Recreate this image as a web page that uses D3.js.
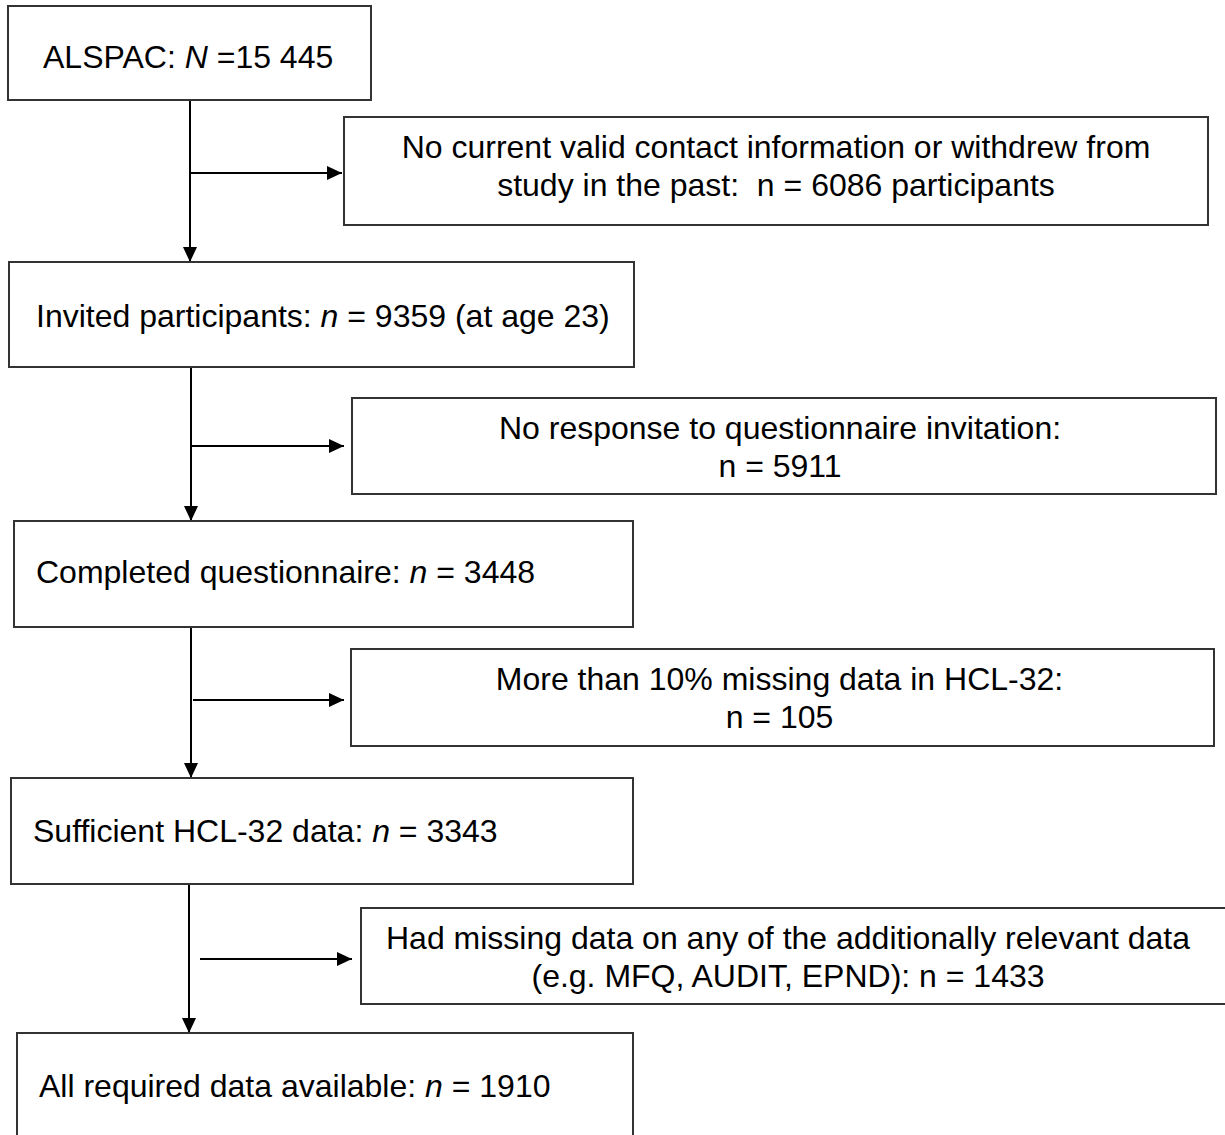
<!DOCTYPE html>
<html>
<head>
<meta charset="utf-8">
<script src="https://cdn.jsdelivr.net/npm/d3@7"></script>
<style>
  html, body { margin: 0; padding: 0; background: #fff; }
  svg { display: block; font-family: "Liberation Sans", Arial, sans-serif; }
</style>
</head>
<body>
<svg id="flow" width="1225" height="1135"></svg>
<script>
// retained sample at each step
const stageLabels = ['ALSPAC: ', 'Invited participants: ', 'Completed questionnaire: ', 'Sufficient HCL-32 data: ', 'All required data available: '];
const stageSymbols = ['N', 'n', 'n', 'n', 'n'];
const stageEquals = [' =', ' = ', ' = ', ' = ', ' = '];
const stageCounts = ['15 445', '9359', '3448', '3343', '1910'];
const stageSuffix = ['', ' (at age 23)', '', '', ''];

// excluded at each step
const exclLines = [
  ['No current valid contact information or withdrew from', 'study in the past:  n = 6086 participants'],
  ['No response to questionnaire invitation:', 'n = 5911'],
  ['More than 10% missing data in HCL-32:', 'n = 105'],
  ['Had missing data on any of the additionally relevant data', '(e.g. MFQ, AUDIT, EPND): n = 1433']
];

// layout (pixels)
const stageBoxes = [
  { x0: 8, x1: 371, y0: 6, y1: 100, tx: 43, ty: 68 },
  { x0: 9, x1: 634, y0: 262, y1: 367, tx: 36, ty: 327 },
  { x0: 14, x1: 633, y0: 521, y1: 627, tx: 36, ty: 583 },
  { x0: 11, x1: 633, y0: 778, y1: 884, tx: 33, ty: 842 },
  { x0: 17, x1: 633, y0: 1033, y1: 1145, tx: 39, ty: 1097 }
];
const exclBoxes = [
  { x0: 344, x1: 1208, y0: 117, y1: 225, ay: 173, ax0: 190, ax1: 342 },
  { x0: 352, x1: 1216, y0: 398, y1: 494, ay: 446, ax0: 190, ax1: 344 },
  { x0: 351, x1: 1214, y0: 649, y1: 746, ay: 700, ax0: 193, ax1: 344 },
  { x0: 361, x1: 1232, y0: 908, y1: 1004, ay: 959, ax0: 200, ax1: 352 }
];
const spineX = [190, 191, 191, 189];

const svg = d3.select('#flow');
const fontSize = 32;

svg.append('defs').append('marker')
  .attr('id', 'head')
  .attr('viewBox', '0 0 15 14')
  .attr('refX', 15).attr('refY', 7)
  .attr('markerUnits', 'userSpaceOnUse')
  .attr('markerWidth', 15).attr('markerHeight', 14)
  .attr('orient', 'auto')
  .append('path')
  .attr('d', 'M0,0 L15,7 L0,14 Z')
  .attr('fill', '#000');

// vertical spine between stage boxes
spineX.forEach((x, i) => {
  svg.append('line')
    .attr('x1', x).attr('x2', x)
    .attr('y1', stageBoxes[i].y1 + 1)
    .attr('y2', stageBoxes[i + 1].y0)
    .attr('stroke', '#000').attr('stroke-width', 2)
    .attr('marker-end', 'url(#head)');
});

// side arrows to exclusion boxes
exclBoxes.forEach((b) => {
  svg.append('line')
    .attr('x1', b.ax0).attr('x2', b.ax1)
    .attr('y1', b.ay).attr('y2', b.ay)
    .attr('stroke', '#000').attr('stroke-width', 2)
    .attr('marker-end', 'url(#head)');
});

// stage boxes
const stages = svg.selectAll('g.stage')
  .data(stageBoxes)
  .join('g')
  .attr('class', 'stage');

stages.append('rect')
  .attr('x', (d) => d.x0).attr('y', (d) => d.y0)
  .attr('width', (d) => d.x1 - d.x0).attr('height', (d) => d.y1 - d.y0)
  .attr('fill', '#fff').attr('stroke', '#333').attr('stroke-width', 2);

stages.each(function (d, i) {
  const t = d3.select(this).append('text')
    .attr('x', d.tx).attr('y', d.ty)
    .attr('font-size', fontSize).attr('fill', '#000');
  t.append('tspan').text(stageLabels[i]);
  t.append('tspan').attr('font-style', 'italic').text(stageSymbols[i]);
  t.append('tspan').text(stageEquals[i] + stageCounts[i] + stageSuffix[i]);
});

// exclusion boxes
const excl = svg.selectAll('g.excl')
  .data(exclBoxes)
  .join('g')
  .attr('class', 'excl');

excl.append('rect')
  .attr('x', (d) => d.x0).attr('y', (d) => d.y0)
  .attr('width', (d) => d.x1 - d.x0).attr('height', (d) => d.y1 - d.y0)
  .attr('fill', '#fff').attr('stroke', '#333').attr('stroke-width', 2);

excl.each(function (d, i) {
  const cx = (d.x0 + Math.min(d.x1, 1208)) / 2;
  d3.select(this).selectAll('text')
    .data(exclLines[i])
    .join('text')
    .attr('x', i === 3 ? 788 : cx)
    .attr('y', (_, k) => d.y0 + 41 + k * 38)
    .attr('text-anchor', 'middle')
    .attr('font-size', fontSize)
    .attr('fill', '#000')
    .style('white-space', 'pre')
    .text((s) => s);
});
</script>
</body>
</html>
